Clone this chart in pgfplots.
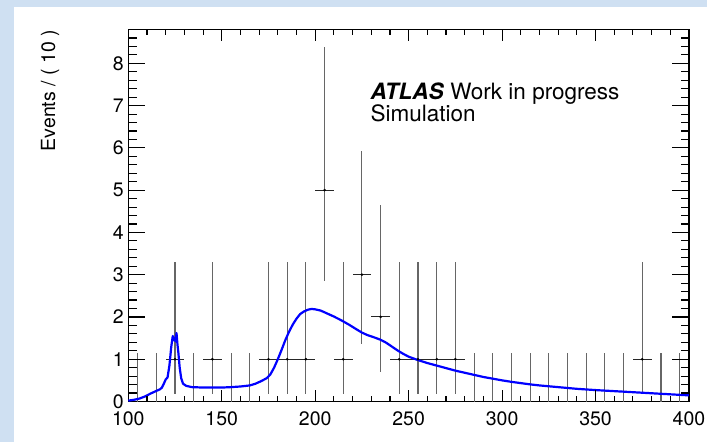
\documentclass[border=0pt]{standalone}
\usepackage{pgfplots}
\pgfplotsset{compat=1.18}
\usepackage{pgfplotstable}
\usepackage{fontspec}
\setmainfont{TeX Gyre Heros}

\definecolor{framebg}{RGB}{207,224,242}
\definecolor{pdfblue}{RGB}{0,0,255}

% Binned pseudo-data: bin centre, count, Poisson (Garwood) errors down/up
\pgfplotstableread{
x   y  ym     yp
105 0  0      1.148
115 0  0      1.148
125 1  0.827  2.300
135 0  0      1.148
145 1  0.827  2.300
155 0  0      1.148
165 0  0      1.148
175 1  0.827  2.300
185 1  0.827  2.300
195 1  0.827  2.300
205 5  2.160  3.382
215 1  0.827  2.300
225 3  1.633  2.918
235 2  1.292  2.638
245 1  0.827  2.300
255 1  0.827  2.300
265 1  0.827  2.300
275 1  0.827  2.300
285 0  0      1.148
295 0  0      1.148
305 0  0      1.148
315 0  0      1.148
325 0  0      1.148
335 0  0      1.148
345 0  0      1.148
355 0  0      1.148
365 0  0      1.148
375 1  0.827  2.300
385 0  0      1.148
395 0  0      1.148
}\bins

% Non-empty bins, drawn with a marker and the bin width
\pgfplotstableread{
x   y  xe
125 1  5
145 1  5
175 1  5
185 1  5
195 1  5
205 5  5
215 1  5
225 3  5
235 2  5
245 1  5
255 1  5
265 1  5
275 1  5
375 1  5
}\filled

% Fitted p.d.f. projection
\pgfplotstableread{
x     y
100   0.02
103   0.04
106   0.07
109   0.12
112   0.19
115   0.25
117   0.29
118   0.33
119   0.42
120   0.52
121   0.57
122   0.85
123   1.30
123.8 1.55
124.3 1.45
124.8 1.50
125.3 1.42
125.8 1.62
126.3 1.35
126.8 1.15
127.5 0.80
128.3 0.55
129.3 0.42
131   0.37
134   0.34
140   0.33
145   0.33
150   0.33
155   0.34
160   0.355
165   0.38
168   0.42
171   0.48
174   0.55
176   0.64
178   0.80
180   1.00
182   1.22
184   1.45
186   1.65
188   1.82
190   1.96
192   2.07
194   2.13
196   2.17
198   2.19
200   2.18
203   2.15
206   2.09
210   2.01
214   1.92
218   1.82
222   1.71
225   1.63
228   1.57
232   1.51
235   1.46
238   1.39
241   1.30
244   1.21
247   1.13
250   1.06
255   0.98
260   0.91
265   0.85
270   0.79
275   0.73
280   0.68
285   0.63
290   0.58
295   0.54
300   0.50
305   0.465
310   0.435
315   0.405
320   0.38
330   0.34
340   0.30
350   0.27
360   0.245
370   0.22
380   0.195
390   0.17
400   0.145
}\pdfcurve

\tikzset{tickpen/.style={black, line width=1.1pt}}

\begin{document}
\begin{tikzpicture}
% canvas: the axis box has its lower left corner at the origin
\fill[framebg] (-128.3pt,-40.5pt) rectangle (578.7pt,401.5pt);
\fill[white] (-113.8pt,-40.5pt) rectangle (578.7pt,394.5pt);

\begin{axis}[
  scale only axis, width=560.7pt, height=372pt,
  xmin=100, xmax=400, ymin=0, ymax=8.8,
  xtick={100,150,...,400}, ytick={0,1,...,8},
  major tick length=0pt,
  axis line style={line width=1.3pt},
  /pgf/number format/assume math mode=true,
  ticklabel style={font=\fontsize{19.5}{22}\selectfont},
  xticklabel style={anchor=north, inner sep=0pt, yshift=-9.5pt},
  yticklabel style={anchor=east, inner sep=0pt, xshift=-4.5pt},
  ylabel={Events / ( 10 )},
  every axis y label/.style={at={(axis description cs:-0.1307,0.9987)}, rotate=90,
    anchor=base east, inner sep=0pt, font=\fontsize{19.5}{22}\selectfont},
  clip=false,
]
% vertical error bars (all bins)
\addplot[draw=none, mark=none, forget plot,
  error bars/.cd, y dir=both, y explicit, error mark=none,
  error bar style={black!60, line width=1.1pt}]
  table[x=x, y=y, y error minus=ym, y error plus=yp] {\bins};
% bin widths and markers
\addplot[only marks, mark=*, mark size=1.1pt, black,
  error bars/.cd, x dir=both, x explicit, error mark=none,
  error bar style={black!85, line width=1pt}]
  table[x=x, y=y, x error=xe] {\filled};
% model curve
\addplot[pdfblue, line width=2.2pt, line join=round, mark=none]
  table[x=x, y=y] {\pdfcurve};

% ROOT-style inward ticks on all four sides (3% / 1.5% of the other side)
\pgfplotsinvokeforeach{110,120,...,390}{
  \draw[tickpen] (axis cs:#1,0) -- ++(0pt,5.6pt);
  \draw[tickpen] (axis cs:#1,8.8) -- ++(0pt,-5.6pt);
}
\pgfplotsinvokeforeach{150,200,...,350}{
  \draw[tickpen] (axis cs:#1,0) -- ++(0pt,11.2pt);
  \draw[tickpen] (axis cs:#1,8.8) -- ++(0pt,-11.2pt);
}
\pgfplotsinvokeforeach{0.2,0.4,...,8.61}{
  \draw[tickpen] (axis cs:100,#1) -- ++(8.4pt,0pt);
  \draw[tickpen] (axis cs:400,#1) -- ++(-8.4pt,0pt);
}
\pgfplotsinvokeforeach{1,2,...,8}{
  \draw[tickpen] (axis cs:100,#1) -- ++(16.8pt,0pt);
  \draw[tickpen] (axis cs:400,#1) -- ++(-16.8pt,0pt);
}
\end{axis}

\node[anchor=base west, inner sep=0pt, font=\fontsize{22.5}{26}\selectfont]
  at (242.2pt,301.5pt) {\textbf{\textit{ATLAS}} Work in progress};
\node[anchor=base west, inner sep=0pt, font=\fontsize{22.5}{26}\selectfont]
  at (242.2pt,279.8pt) {Simulation};
\end{tikzpicture}
\end{document}
